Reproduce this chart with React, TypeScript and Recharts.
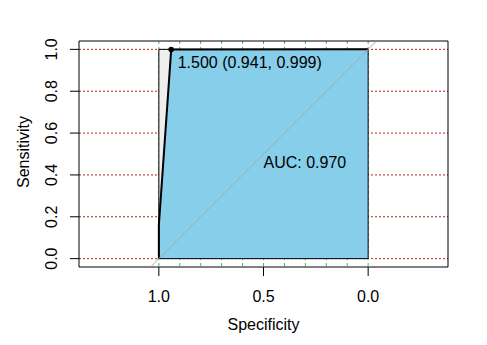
import {
  Area,
  CartesianGrid,
  ComposedChart,
  Line,
  ReferenceArea,
  Scatter,
  XAxis,
  YAxis,
} from 'recharts'

// ROC curve (specificity, sensitivity)
const rocSpec = [1, 1, 0.941, 0]
const rocSens = [0, 0.16, 0.999, 1]

// best threshold
const thrValue = [1.5]
const thrSpec = [0.941]
const thrSens = [0.999]

const aucValue = 0.97
const aucPos = [0.5, 0.5]

// max AUC square and identity line
const maxSpec = [1, 1, 0, 0]
const maxSens = [0, 1, 1, 0]
const boxSpec = [1, 1, 0, 0, 1]
const boxSens = [0, 1, 1, 0, 0]
const diagSpec = [1.04, -0.04]
const diagSens = [-0.04, 1.04]

const gridX = [0, 0.1, 0.2, 0.3, 0.4, 0.5, 0.6, 0.7, 0.8, 0.9, 1]
const xLabels = [1, 0.5, 0]
const yTicks = [0, 0.2, 0.4, 0.6, 0.8, 1]

const xDomain = [-0.3815, 1.3815]
const yDomain = [-0.04, 1.04]

const FONT = '"Liberation Sans", Arial, sans-serif'

const zip = (xs: number[], ys: number[]) => xs.map((spec, i) => ({ spec, sens: ys[i] }))

const rocData = zip(rocSpec, rocSens)
const maxData = zip(maxSpec, maxSens)
const boxData = zip(boxSpec, boxSens)
const diagData = zip(diagSpec, diagSens)
const thrData = thrSpec.map((spec, i) => ({ spec, sens: thrSens[i], thr: thrValue[i] }))
const aucData = [{ spec: aucPos[0], sens: aucPos[1] }]

function XTick({ x, y, payload }: any) {
  const v = payload.value
  if (!xLabels.includes(v)) return <g />
  return (
    <g>
      <line x1={x} y1={y} x2={x} y2={y + 9} stroke="#000" />
      <text x={x} y={y + 35} textAnchor="middle" fontSize={16} fontFamily={FONT} fill="#000">
        {v.toFixed(1)}
      </text>
    </g>
  )
}

function YTick({ x, y, payload }: any) {
  const tx = x - 22
  return (
    <g>
      <line x1={x - 9} y1={y} x2={x} y2={y} stroke="#000" />
      <text
        x={tx}
        y={y}
        transform={`rotate(-90 ${tx} ${y})`}
        textAnchor="middle"
        fontSize={16}
        fontFamily={FONT}
        fill="#000"
      >
        {payload.value.toFixed(1)}
      </text>
    </g>
  )
}

function XTitle(props: any) {
  const vb = props.viewBox
  return (
    <text x={vb.x + vb.width / 2} y={vb.y + 62.5} textAnchor="middle" fontSize={16} fontFamily={FONT} fill="#000">
      Specificity
    </text>
  )
}

function YTitle(props: any) {
  const vb = props.viewBox
  const tx = vb.x + 28
  const ty = vb.y + vb.height / 2 - 2
  return (
    <text x={tx} y={ty} transform={`rotate(-90 ${tx} ${ty})`} textAnchor="middle" fontSize={16} fontFamily={FONT} fill="#000">
      Sensitivity
    </text>
  )
}

function ThresholdMark(props: any) {
  const { cx, cy, payload } = props
  return (
    <g>
      <circle cx={cx} cy={cy} r={2.8} fill="#000" />
      <text x={cx + 6.5} y={cy + 18.5} fontSize={16} fontFamily={FONT} fill="#000">
        {`${payload.thr.toFixed(3)} (${payload.spec.toFixed(3)}, ${payload.sens.toFixed(3)})`}
      </text>
    </g>
  )
}

function AucText(props: any) {
  const { cx, cy } = props
  return (
    <text x={cx} y={cy + 14} fontSize={16} fontFamily={FONT} fill="#000">
      {`AUC: ${aucValue.toFixed(3)}`}
    </text>
  )
}

export default function App() {
  return (
    <div style={{ position: 'absolute', left: 0.5, top: 0.5, width: 487, height: 345, background: '#fff' }}>
      <ComposedChart width={487} height={345} margin={{ top: 40, right: 40, bottom: 0, left: 0 }}>
        <XAxis
          dataKey="spec"
          type="number"
          domain={xDomain}
          allowDataOverflow
          reversed
          ticks={gridX}
          interval={0}
          tick={<XTick />}
          tickLine={false}
          tickSize={0}
          tickMargin={0}
          axisLine={false}
          height={79}
          label={{ content: XTitle }}
        />
        <YAxis
          dataKey="sens"
          type="number"
          domain={yDomain}
          allowDataOverflow
          ticks={yTicks}
          interval={0}
          tick={<YTick />}
          tickLine={false}
          tickSize={0}
          tickMargin={0}
          axisLine={false}
          width={78}
          label={{ content: YTitle }}
        />
        <CartesianGrid vertical={false} syncWithTicks stroke="#C02020" strokeDasharray="2 2" />
        <CartesianGrid horizontal={false} syncWithTicks stroke="#3CBF3C" strokeDasharray="3 3" />
        <Area
          data={maxData}
          dataKey="sens"
          type="linear"
          fill="#EEEEEE"
          fillOpacity={1}
          stroke="none"
          isAnimationActive={false}
          activeDot={false}
        />
        <Area
          data={rocData}
          dataKey="sens"
          type="linear"
          fill="#87CEEB"
          fillOpacity={1}
          stroke="none"
          isAnimationActive={false}
          activeDot={false}
        />
        <Line
          data={boxData}
          dataKey="sens"
          type="linear"
          stroke="#000"
          strokeWidth={1}
          dot={false}
          activeDot={false}
          isAnimationActive={false}
        />
        <Line
          data={rocData}
          dataKey="sens"
          type="linear"
          stroke="#000"
          strokeWidth={2}
          dot={false}
          activeDot={false}
          isAnimationActive={false}
        />
        <Line
          data={diagData}
          dataKey="sens"
          type="linear"
          stroke="#A9A9A9"
          strokeWidth={1}
          dot={false}
          activeDot={false}
          isAnimationActive={false}
        />
        <Scatter data={thrData} dataKey="sens" shape={ThresholdMark} isAnimationActive={false} />
        <Scatter data={aucData} dataKey="sens" shape={AucText} isAnimationActive={false} />
        <ReferenceArea
          x1={xDomain[0]}
          x2={xDomain[1]}
          y1={yDomain[0]}
          y2={yDomain[1]}
          fill="none"
          stroke="#000"
          strokeWidth={1}
          ifOverflow="visible"
        />
      </ComposedChart>
    </div>
  )
}
